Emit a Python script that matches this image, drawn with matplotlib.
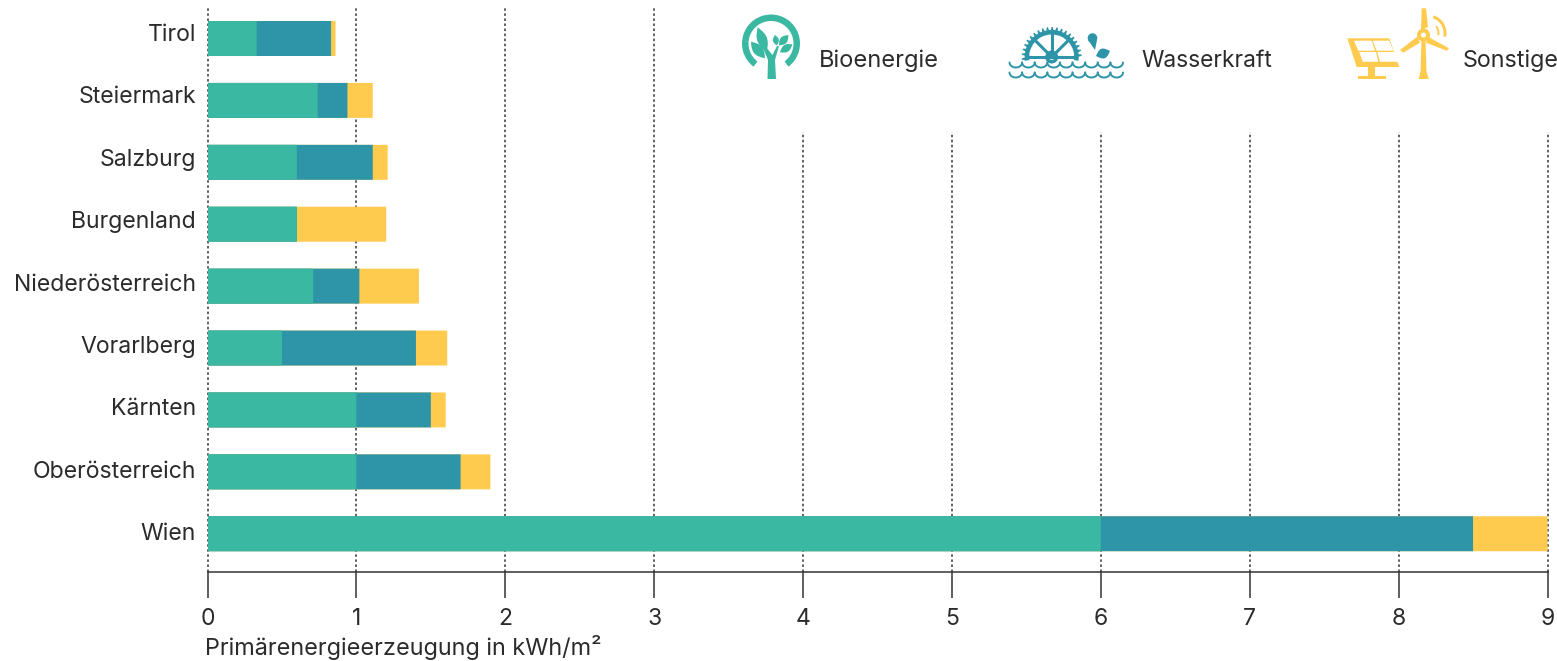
import numpy as np
import matplotlib
matplotlib.use('Agg')
import matplotlib.pyplot as plt
from matplotlib.patches import Circle, Polygon, Rectangle, Wedge

regions = ['Tirol', 'Steiermark', 'Salzburg', 'Burgenland', 'Niederösterreich',
           'Vorarlberg', 'Kärnten', 'Oberösterreich', 'Wien']
bio = [0.33, 0.74, 0.60, 0.60, 0.71, 0.50, 1.00, 1.00, 6.00]
water = [0.50, 0.20, 0.51, 0.00, 0.31, 0.90, 0.50, 0.70, 2.50]
other = [0.03, 0.17, 0.10, 0.60, 0.40, 0.21, 0.10, 0.20, 0.50]
x_ticks = [0, 1, 2, 3, 4, 5, 6, 7, 8, 9]
x_label = 'Primärenergieerzeugung in kWh/m²'
legend_names = ['Bioenergie', 'Wasserkraft', 'Sonstige']

GREEN = '#3BB8A2'
BLUE = '#2E94A7'
YELLOW = '#FFCB4F'
TEXT = '#2b2b2b'
W, H = 1557, 661

plt.rcParams['font.family'] = ['Inter', 'DejaVu Sans']

fig = plt.figure(figsize=(W / 100, H / 100), dpi=100)
ax = fig.add_axes([207.5 / W, 1 - 571.5 / H, 1340 / W, 563.5 / H])
ax.set_xlim(0, 9)
ax.set_ylim(8.61, -0.493)

# the gridlines right of 3 stop below the legend
y = np.arange(len(regions))
for t in x_ticks:
    top = -0.493 if t < 4 else 1.51
    ax.plot([t, t], [8.61, top], color='#555555', lw=1.3, ls=(0, (1.4, 1.4)), zorder=1,
            clip_on=False)

# drawn back to front from the running totals, so no seam shows between the parts
bio_a = np.array(bio)
water_a = np.array(water)
other_a = np.array(other)
for vals, col in [(bio_a + water_a + other_a, YELLOW), (bio_a + water_a, BLUE), (bio_a, GREEN)]:
    bars = ax.barh(y, vals, height=0.565, color=col, zorder=2)
    for b in bars:
        b.set_snap(False)

for s in ['top', 'left', 'right']:
    ax.spines[s].set_visible(False)
ax.spines['bottom'].set_color('#333333')
ax.spines['bottom'].set_linewidth(1.1)
ax.set_yticks([])
ax.set_xticks(x_ticks)
ax.tick_params(axis='x', length=18.5, width=1.1, color='#333333', labelsize=16.5,
               labelcolor=TEXT, pad=7.5)

# overlay in image pixels for labels and icons
ov = fig.add_axes([0, 0, 1, 1])
ov.set_xlim(0, W)
ov.set_ylim(H, 0)
ov.axis('off')
ov.patch.set_alpha(0)

for i, name in enumerate(regions):
    ov.text(196, 35 + 62.4 * i, name, ha='right', va='center', fontsize=16.6, color=TEXT)
ov.text(205, 648, x_label, ha='left', va='center', fontsize=16.9, color=TEXT)
for name, lx, size in zip(legend_names, [819, 1141, 1463], [17, 16.4, 16.8]):
    ov.text(lx, 61, name, ha='left', va='center', fontsize=size, color=TEXT)


def leaf(p1, p2, width, c):
    # lens shape between two tips
    p1 = np.array(p1, dtype=float)
    p2 = np.array(p2, dtype=float)
    s = np.linspace(0, 1, 24)
    d = p2 - p1
    n = np.array([-d[1], d[0]]) / np.hypot(*d)
    bulge = width / 2 * np.sin(np.pi * s)
    a = p1 + np.outer(s, d) + np.outer(bulge, n)
    b = p1 + np.outer(s, d) - np.outer(bulge, n)
    ov.add_patch(Polygon(np.vstack([a, b[::-1]]), color=c, lw=0))


def tree_icon(c):
    ov.add_patch(Wedge((771, 43.5), 29, 127, 413, width=6.5, color=c, lw=0))
    ov.add_patch(Polygon([(767.5, 79), (776, 79), (775, 60), (779, 46), (777, 46), (772.5, 55),
                          (766, 47), (763, 48), (768, 60)], color=c, lw=0))
    leaf((757.7, 27.3), (766.7, 51.7), 10, c)
    leaf((751, 41.7), (765, 58.3), 10, c)
    leaf((775, 35), (776.7, 45.5), 6, c)
    leaf((788.3, 35), (779, 45.5), 7.5, c)
    leaf((792.3, 44.3), (780, 52.3), 7.5, c)


def wave_row(x0, x1, ytop, c):
    n = 9
    step = (x1 - x0) / n
    for k in range(n):
        t = np.linspace(0, np.pi, 20)
        xs = x0 + step * (k + 0.5) + step / 2 * np.cos(t)
        ov.plot(xs, ytop + 5 * np.sin(t), color=c, lw=1.4, solid_capstyle='round')


def wheel_icon(c):
    cx, cy = 1051.7, 57
    ov.add_patch(Wedge((cx, cy), 27, 172, 368, width=4.5, color=c, lw=0))
    for a in np.radians(np.arange(176, 366, 9.5)):
        da = 0.06
        ov.add_patch(Polygon([(cx + 26 * np.cos(a - da), cy + 26 * np.sin(a - da)),
                              (cx + 30 * np.cos(a - da / 3), cy + 30 * np.sin(a - da / 3)),
                              (cx + 30 * np.cos(a + da / 3), cy + 30 * np.sin(a + da / 3)),
                              (cx + 26 * np.cos(a + da), cy + 26 * np.sin(a + da))], color=c, lw=0))
    for a in np.radians([180, 225, 270, 315, 360]):
        ov.plot([cx, cx + 23 * np.cos(a)], [cy, cy + 23 * np.sin(a)], color=c, lw=2.2)
    ov.add_patch(Circle((cx, cy), 6.5, color=c, lw=0))
    ov.add_patch(Circle((cx, cy), 3, color='white', lw=0))
    wave_row(1009.5, 1123, 62.5, c)
    wave_row(1009.5, 1123, 72.5, c)
    ov.add_patch(Circle((1092.5, 38), 4.8, color=c, lw=0))
    ov.add_patch(Polygon([(1088, 40), (1097, 40), (1095, 50)], color=c, lw=0))
    leaf((1096, 56), (1110, 51), 10, c)


def energy_icon(c):
    ov.add_patch(Polygon([(1347.3, 38.3), (1389.3, 38.3), (1399.3, 67), (1356.7, 67)], color=c, lw=0))
    cells = [[(1354, 40.7), (1371.7, 40.7), (1375, 50.7), (1358.3, 50.7)],
             [(1372.7, 40.7), (1389.3, 40.7), (1393.3, 50.7), (1376.7, 50.7)],
             [(1359.3, 52), (1376, 52), (1378.3, 61.7), (1362.7, 61.7)],
             [(1377.3, 52), (1395, 52), (1397.7, 61.7), (1380, 61.7)]]
    for cell in cells:
        ov.add_patch(Polygon(cell, color='white', lw=0))
    ov.add_patch(Rectangle((1368.5, 67), 7, 10, color=c, lw=0))
    ov.add_patch(Rectangle((1358.5, 76), 27.5, 3, color=c, lw=0))
    hub = (1423.5, 35)
    ov.add_patch(Polygon([(1421.5, 40), (1425.5, 40), (1426.5, 71.5), (1428.7, 79), (1418.7, 79),
                          (1420.5, 71.5)], color=c, lw=0))
    ov.add_patch(Polygon([(1421.7, 8.3), (1426, 8.3), (1428, 27), (1421, 30)], color=c, lw=0))
    ov.add_patch(Polygon([(1400, 50), (1403.3, 52.7), (1420, 42.7), (1417.3, 36.7)], color=c, lw=0))
    ov.add_patch(Polygon([(1449, 48.3), (1446.7, 50.7), (1426, 42.7), (1428, 36.7)], color=c, lw=0))
    ov.add_patch(Circle(hub, 6.5, color=c, lw=0))
    ov.add_patch(Circle(hub, 2.5, color='white', lw=0))
    ov.add_patch(Wedge((1428, 33), 18.5, -72, 12, width=3, color=c, lw=0))
    ov.add_patch(Wedge((1428, 33), 11.5, -40, 12, width=2, color=c, lw=0))


tree_icon(GREEN)
wheel_icon(BLUE)
energy_icon(YELLOW)

fig.savefig('out.png', dpi=100)
